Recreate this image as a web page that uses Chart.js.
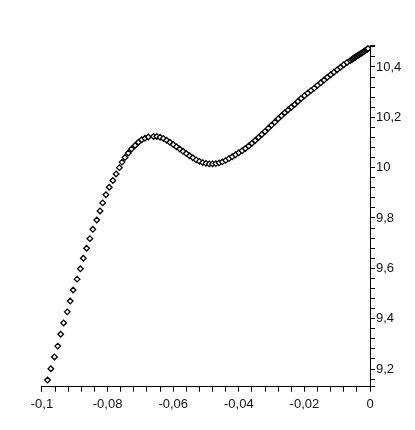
<!DOCTYPE html>
<html>
<head>
<meta charset="utf-8">
<script src="https://cdn.jsdelivr.net/npm/chart.js@4.4.1/dist/chart.umd.min.js"></script>
<style>
  html, body { margin: 0; padding: 0; background: #fff; }
  #plot { display: block; }
</style>
</head>
<body>
<canvas id="plot" width="415" height="430"></canvas>
<script>
// point positions
const xValues = [
  -0.0983, -0.0973, -0.0962, -0.0952, -0.0943, -0.0934, -0.0923, -0.0914,
  -0.0905, -0.0893, -0.0883, -0.0874, -0.0864, -0.0854, -0.0845, -0.0833,
  -0.0823, -0.0815, -0.0805, -0.0795, -0.0784, -0.0774, -0.0764, -0.0756,
  -0.0747, -0.0737, -0.0727, -0.0716, -0.0706, -0.0696, -0.0686, -0.0676,
  -0.066, -0.065, -0.064, -0.063, -0.062, -0.061, -0.060, -0.059, -0.058,
  -0.057, -0.056, -0.055, -0.054, -0.053, -0.052, -0.051, -0.050, -0.049,
  -0.048, -0.047, -0.046, -0.045, -0.044, -0.043, -0.042, -0.041, -0.040,
  -0.039, -0.038, -0.037, -0.036, -0.035, -0.034, -0.033, -0.032, -0.031,
  -0.030, -0.029, -0.028, -0.027, -0.026, -0.025, -0.024, -0.023, -0.022,
  -0.021, -0.020, -0.019, -0.018, -0.017, -0.016, -0.015, -0.014, -0.013,
  -0.012, -0.011, -0.010, -0.009, -0.008, -0.007, -0.006,
  -0.0055, -0.0052, -0.0049, -0.0046, -0.0043, -0.0040, -0.0037, -0.0034,
  -0.0031, -0.0028, -0.0025, -0.0022, -0.0019, -0.0016, -0.0013, -0.0010,
  -0.0008, -0.0006
];
const yValues = [
  9.156, 9.201, 9.248, 9.291, 9.338, 9.383, 9.427, 9.470,
  9.514, 9.557, 9.598, 9.640, 9.680, 9.718, 9.755, 9.792,
  9.828, 9.860, 9.892, 9.922, 9.949, 9.975, 10.000, 10.022,
  10.040, 10.058, 10.074, 10.088, 10.101, 10.111, 10.117, 10.122,
  10.124, 10.124, 10.121, 10.116, 10.109, 10.101, 10.092, 10.083, 10.074,
  10.065, 10.056, 10.047, 10.039, 10.031, 10.025, 10.020, 10.017, 10.015,
  10.015, 10.016, 10.019, 10.023, 10.029, 10.036, 10.043, 10.051, 10.059,
  10.067, 10.076, 10.086, 10.097, 10.108, 10.120, 10.132, 10.144, 10.157,
  10.169, 10.181, 10.194, 10.206, 10.218, 10.229, 10.240, 10.251, 10.263,
  10.275, 10.286, 10.296, 10.306, 10.316, 10.327, 10.337, 10.348, 10.359,
  10.369, 10.379, 10.389, 10.399, 10.409, 10.418, 10.426,
  10.430, 10.433, 10.436, 10.438, 10.441, 10.443, 10.446, 10.448,
  10.451, 10.453, 10.456, 10.458, 10.461, 10.464, 10.466, 10.469,
  10.471, 10.473
];

// labelled ticks
const xMajorTicks = [-0.1, -0.08, -0.06, -0.04, -0.02, 0];
const yMajorTicks = [9.2, 9.4, 9.6, 9.8, 10, 10.2, 10.4];

// axis ranges and minor tick steps
const X_MIN = -0.1003, X_MAX = 0, X_MINOR = 0.004;
const Y_MIN = 9.1297, Y_MAX = 10.4873, Y_MINOR = 0.04;

function buildTicks(min, max, step, first) {
  const out = [min];
  for (let v = first; v <= max + 1e-9; v += step) {
    out.push(Math.round(v * 1e6) / 1e6);
  }
  if (out[out.length - 1] < max - 1e-9) out.push(max);
  return out.map(v => ({ value: v }));
}

function isMajor(v, list) {
  return list.some(m => Math.abs(m - v) < 1e-7);
}

// comma decimal like the original
function fmt(v) {
  return String(Number(v.toFixed(2))).replace('.', ',');
}

const points = xValues.map((x, i) => ({ x: x, y: yValues[i] }));

const tickFont = { family: 'Liberation Sans, Arial, sans-serif', size: 13 };

const ctx = document.getElementById('plot').getContext('2d');
const chart = new Chart(ctx, {
  type: 'scatter',
  data: {
    datasets: [{
      data: points,
      pointStyle: 'rectRot',
      pointRadius: 2.8,
      borderWidth: 1.3,
      borderColor: '#000',
      backgroundColor: '#fff',
      showLine: false
    }]
  },
  options: {
    responsive: false,
    devicePixelRatio: 1,
    animation: false,
    layout: { padding: { top: 45, right: 0, bottom: 0, left: 41 } },
    plugins: {
      legend: { display: false },
      tooltip: { enabled: false }
    },
    scales: {
      x: {
        type: 'linear',
        position: 'bottom',
        min: X_MIN,
        max: X_MAX,
        afterBuildTicks: (scale) => {
          scale.ticks = buildTicks(X_MIN, X_MAX, X_MINOR, -0.1);
        },
        afterFit: (scale) => { scale.height = 43.3; },
        grid: { drawOnChartArea: false, drawTicks: true, tickLength: 5, color: '#000', lineWidth: 1 },
        border: { display: true, color: '#000', width: 1 },
        ticks: {
          autoSkip: false,
          maxRotation: 0,
          minRotation: 0,
          padding: 5,
          color: '#111',
          font: tickFont,
          callback: (v) => isMajor(v, xMajorTicks) ? fmt(v) : ''
        }
      },
      y: {
        type: 'linear',
        position: 'right',
        min: Y_MIN,
        max: Y_MAX,
        afterBuildTicks: (scale) => {
          scale.ticks = buildTicks(Y_MIN, Y_MAX, Y_MINOR, 9.16);
        },
        afterFit: (scale) => { scale.width = 45; },
        grid: { drawOnChartArea: false, drawTicks: true, tickLength: 5, color: '#000', lineWidth: 1 },
        border: { display: true, color: '#000', width: 1 },
        ticks: {
          autoSkip: false,
          padding: 1,
          color: '#111',
          font: tickFont,
          callback: (v) => isMajor(v, yMajorTicks) ? fmt(v) : ''
        }
      }
    }
  }
});
</script>
</body>
</html>
